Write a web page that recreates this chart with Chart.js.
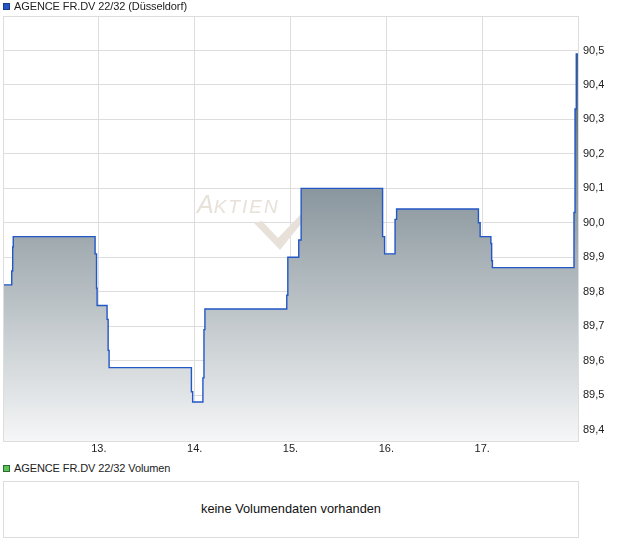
<!DOCTYPE html>
<html>
<head>
<meta charset="utf-8">
<script src="https://cdn.jsdelivr.net/npm/chart.js@4.4.1/dist/chart.umd.min.js"></script>
<style>
  body { margin: 0; background: #fff; font-family: "Liberation Sans", Arial, sans-serif; }
  #wrap { position: relative; width: 620px; height: 546px; overflow: hidden; }
  #price-chart { position: absolute; left: 0; top: 0; }
  .sq { position: absolute; width: 5px; height: 5px; border: 1px solid #333; }
  .lbl { position: absolute; font-size: 11px; line-height: 13px; color: #222; white-space: nowrap; }
  #vol-box { position: absolute; left: 3px; top: 481px; width: 574px; height: 55px; border: 1px solid #ddd;
             font-size: 12.8px; color: #111; text-align: center; line-height: 53px; }
</style>
</head>
<body>
<div id="wrap">
  <canvas id="price-chart" width="620" height="460"></canvas>
  <div class="sq" style="left:3px; top:3px; background:#2456c8; border-color:#1b3b86;"></div>
  <div class="lbl" style="left:14px; top:0px; letter-spacing:-0.1px;">AGENCE FR.DV 22/32 (Düsseldorf)</div>
  <div class="sq" style="left:3px; top:465px; background:#5cc25c; border-color:#2d6a2d;"></div>
  <div class="lbl" style="left:14px; top:462px; letter-spacing:-0.1px;">AGENCE FR.DV 22/32 Volumen</div>
  <div id="vol-box">keine Volumendaten vorhanden</div>
</div>
<script>
  // price path: day of month (fractional) where the quote changes, and the quote from then on
  const priceDays = [
    12.000, 12.091, 12.101, 12.107, 12.961, 12.976, 12.982, 13.086, 13.097, 13.107,
    13.966, 13.979, 14.086, 14.097, 14.107, 14.961, 14.972, 15.086, 15.111, 15.961,
    15.982, 16.091, 16.107, 16.961, 16.979, 17.091, 17.099, 17.107, 17.958, 17.969,
    17.982, 18.000
  ];
  const priceValues = [
    89.82, 89.86, 89.93, 89.96, 89.91, 89.81, 89.76, 89.72, 89.63, 89.58,
    89.51, 89.48, 89.55, 89.69, 89.75, 89.79, 89.90, 89.95, 90.10, 89.96,
    89.91, 90.01, 90.04, 90.00, 89.96, 89.94, 89.89, 89.87, 90.03, 90.33,
    90.49, 90.49
  ];
  const xTickDays = [12, 13, 14, 15, 16, 17, 18];
  const yTickValues = [89.4, 89.5, 89.6, 89.7, 89.8, 89.9, 90.0, 90.1, 90.2, 90.3, 90.4, 90.5];

  const FONT = "'Liberation Sans', Arial, sans-serif";
  const GRID = "#dddddd";

  function fillGradient(context) {
    const chart = context.chart;
    const area = chart.chartArea;
    if (!area) return "rgba(150,160,170,0.5)";
    const g = chart.ctx.createLinearGradient(0, area.top, 0, area.bottom);
    g.addColorStop(0, "rgb(64,85,96)");
    g.addColorStop(1, "rgb(245,246,247)");
    return g;
  }

  // faint "AKTIEN" logo behind the series
  const watermark = {
    id: "watermark",
    beforeDatasetsDraw(chart) {
      const { ctx, chartArea: a } = chart;
      const x0 = a.left + 194;
      const base = a.top + 197;
      ctx.save();
      ctx.fillStyle = "#e7e1da";
      ctx.font = "italic 25px " + FONT;
      ctx.fillText("A", x0, base);
      let x = x0 + ctx.measureText("A").width;
      ctx.font = "italic 19px " + FONT;
      for (const ch of "KTIEN") {
        ctx.fillText(ch, x, base);
        x += ctx.measureText(ch).width + 2;
      }
      // check mark, tapered
      ctx.beginPath();
      ctx.moveTo(a.left + 251, a.top + 207);
      ctx.lineTo(a.left + 259, a.top + 205);
      ctx.lineTo(a.left + 275, a.top + 222);
      ctx.lineTo(a.left + 300, a.top + 196);
      ctx.lineTo(a.left + 302, a.top + 203);
      ctx.lineTo(a.left + 277, a.top + 234);
      ctx.closePath();
      ctx.fill();
      ctx.restore();
    },
  };

  // thin frame round the plot area, drawn over the fill like the original
  const frame = {
    id: "frame",
    afterDatasetsDraw(chart) {
      const { ctx, chartArea: a } = chart;
      ctx.save();
      ctx.strokeStyle = GRID;
      ctx.lineWidth = 1;
      ctx.strokeRect(a.left + 0.5, a.top + 0.5, a.right - a.left, a.bottom - a.top);
      ctx.restore();
    },
  };

  new Chart(document.getElementById("price-chart"), {
    type: "line",
    data: {
      datasets: [{
        data: priceDays.map((d, i) => ({ x: d, y: priceValues[i] })),
        stepped: true,
        borderColor: "#2257c6",
        borderWidth: 1.4,
        pointRadius: 0,
        fill: "start",
        backgroundColor: fillGradient,
      }],
    },
    options: {
      responsive: false,
      animation: false,
      layout: { padding: { top: 16, left: 3, right: 0, bottom: 0 } },
      plugins: { legend: { display: false }, tooltip: { enabled: false } },
      scales: {
        x: {
          type: "linear",
          min: 12,
          max: 18,
          afterBuildTicks: (s) => { s.ticks = xTickDays.map((v) => ({ value: v })); },
          afterFit: (s) => { s.height = 19; },
          grid: { color: GRID, drawTicks: false },
          border: { display: false },
          ticks: {
            padding: 1,
            autoSkip: false,
            maxRotation: 0,
            color: "#222",
            font: { family: FONT, size: 11 },
            callback: (v) => (v === 12 || v === 18 ? "" : v + "."),
          },
        },
        y: {
          position: "right",
          min: 89.367,
          max: 90.6,
          afterBuildTicks: (s) => { s.ticks = yTickValues.map((v) => ({ value: v })); },
          afterFit: (s) => { s.width = 42; },
          grid: { color: GRID, drawTicks: false },
          border: { display: false },
          ticks: {
            padding: 5,
            color: "#222",
            font: { family: FONT, size: 11 },
            callback: (v) => v.toFixed(1).replace(".", ","),
          },
        },
      },
    },
    plugins: [watermark, frame],
  });
</script>
</body>
</html>
